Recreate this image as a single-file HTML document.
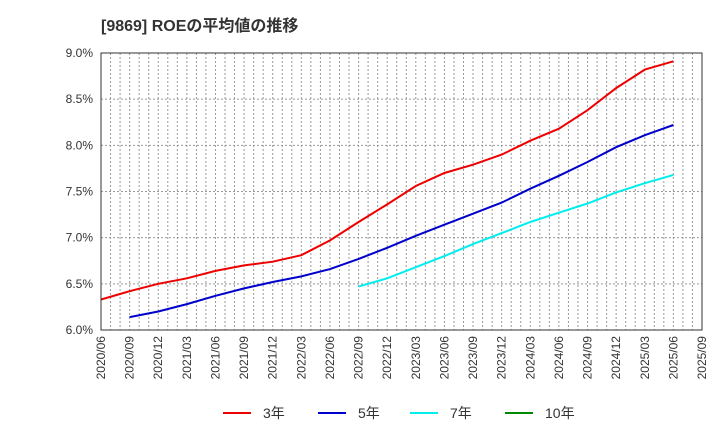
<!DOCTYPE html>
<html><head><meta charset="utf-8"><style>
body{margin:0;background:#fff;}
svg{display:block;font-family:"Liberation Sans","Noto Sans CJK JP",sans-serif;}
</style></head><body>
<svg id="s" width="720" height="440" xmlns="http://www.w3.org/2000/svg">
<text x="101" y="31" font-size="16" font-weight="bold" fill="#333">[9869]  ROEの平均値の推移</text>
<g id="grid"></g>
<g id="lines"></g>
<rect x="101" y="53" width="601" height="277" fill="none" stroke="#333" stroke-width="1"/>
<g font-size="14" fill="#333">
<line x1="223" y1="413" x2="251" y2="413" stroke="#e00" stroke-width="2"/><text x="263" y="418">3年</text>
<line x1="318" y1="413" x2="346" y2="413" stroke="#00c" stroke-width="2"/><text x="358" y="418">5年</text>
<line x1="410" y1="413" x2="438" y2="413" stroke="#0ee" stroke-width="2"/><text x="450" y="418">7年</text>
<line x1="505" y1="413" x2="533" y2="413" stroke="#080" stroke-width="2"/><text x="545" y="418">10年</text>
</g>
</svg>
<script>
const L=101,R=702,T=53,B=330;
const dx=(R-L)/63;
const Y=v=>B-(v-6)*(B-T)/3;
let g='';
for(let m=1;m<63;m++){const x=L+m*dx;g+=`<line x1="${x}" y1="${T}" x2="${x}" y2="${B}" stroke="#999" stroke-width="1" stroke-dasharray="2,2"/>`;}
for(let i=0;i<=6;i++){const v=6+i*0.5,y=Y(v);
if(i>0&&i<6)g+=`<line x1="${L}" y1="${y}" x2="${R}" y2="${y}" stroke="#999" stroke-width="1" stroke-dasharray="2,2"/>`;
g+=`<text x="93" y="${y+4}" font-size="12" fill="#333" text-anchor="end">${v.toFixed(1)}%</text>`;}
const labs=[];for(let q=0;q<22;q++){const mo=6+q*3;const yr=2020+Math.floor((mo-1)/12);const mm=((mo-1)%12)+1;labs.push(yr+'/'+String(mm).padStart(2,'0'));}
labs.forEach((t,q)=>{const x=L+q*3*dx;g+=`<text transform="translate(${x+4},${B+6}) rotate(-90)" font-size="12" fill="#333" text-anchor="end">${t}</text>`;});
document.getElementById('grid').innerHTML=g;
function line(startQ,vals,c){return `<polyline fill="none" stroke="${c}" stroke-width="2" points="${vals.map((v,i)=>(L+(startQ+i)*3*dx).toFixed(1)+','+Y(v).toFixed(1)).join(' ')}"/>`;}
let s='';
s+=line(0,[6.33,6.42,6.50,6.56,6.64,6.70,6.74,6.81,6.97,7.17,7.36,7.56,7.70,7.79,7.90,8.05,8.18,8.38,8.62,8.82,8.91],'#e00');
s+=line(1,[6.14,6.20,6.28,6.37,6.45,6.52,6.58,6.66,6.77,6.89,7.02,7.14,7.26,7.38,7.53,7.67,7.82,7.98,8.11,8.22],'#00c');
s+=line(9,[6.47,6.56,6.68,6.80,6.93,7.05,7.17,7.27,7.37,7.49,7.59,7.68],'#0ee');
document.getElementById('lines').innerHTML=s;
</script>
</body></html>
